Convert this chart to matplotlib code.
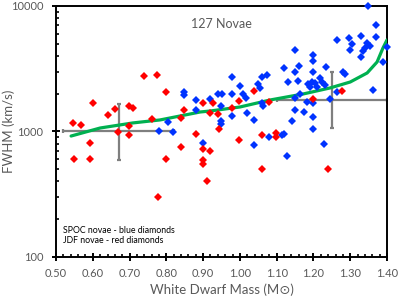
import matplotlib
matplotlib.use("Agg")
import matplotlib.pyplot as plt
from matplotlib.ticker import FixedLocator, FuncFormatter, NullFormatter, LogLocator

plt.rcParams['font.family'] = ['Lato', 'DejaVu Sans']

# SPOC novae (blue diamonds)
spoc_mass = [0.780, 0.818, 0.805, 0.848, 0.848, 0.881, 0.881, 0.900, 0.919, 0.940,
             0.951, 0.949, 0.949, 0.949, 0.979, 1.000, 0.979, 1.008, 1.017, 0.979,
             1.019, 1.038, 1.038, 1.049, 1.055, 1.060, 1.074, 1.060, 1.063, 1.079,
             1.114, 1.120, 1.128, 1.150, 1.199, 1.199, 1.120, 1.150, 1.161, 1.199,
             1.234, 1.280, 1.286, 1.131, 1.158, 1.185, 1.196, 1.204, 1.218, 1.223,
             1.231, 1.210, 1.191, 1.362, 1.150, 1.163, 1.182, 1.199, 1.245, 1.264,
             1.150, 1.174, 1.199, 1.142, 1.199, 1.229, 1.348, 1.370, 1.329, 1.370,
             1.264, 1.297, 1.305, 1.299, 1.346, 1.354, 1.340, 1.335, 1.329, 1.400,
             1.389]
spoc_fwhm = [1009, 991, 1191, 2065, 1954, 1782, 1483, 809, 1816, 1991,
             1991, 1596, 1213, 1148, 2717, 2305, 1991, 1991, 1849, 1330,
             1403, 1236, 780, 2388, 2222, 2717, 2819, 1687, 1596, 903,
             938, 955, 638, 4459, 4070, 3648, 3206, 2980, 3327, 2980,
             3266, 2980, 2872, 2478, 2524, 2388, 2478, 2432, 2667, 2478,
             2348, 2263, 2263, 2142, 1849, 1991, 1718, 1687, 1816, 2065,
             1483, 1429, 1306, 1213, 1047, 794, 10000, 7063, 5768, 5662,
             5359, 5559, 4979, 4459, 5073, 4800, 4625, 4377, 3924, 4711,
             3581]

# JDF novae (red diamonds)
jdf_mass = [0.546, 0.568, 0.601, 0.641, 0.660, 0.698, 0.709, 0.739, 0.775, 0.761,
            0.669, 0.698, 0.698, 0.592, 0.549, 0.592, 0.777, 0.799, 0.848, 0.840,
            0.900, 0.927, 0.919, 0.940, 0.979, 0.998, 1.038, 1.079, 0.943, 0.881,
            1.060, 0.840, 0.799, 0.900, 0.919, 0.900, 0.900, 0.911, 0.998, 1.060,
            1.240, 1.199, 1.278, 1.098, 1.098]
jdf_fwhm = [1169, 1127, 1687, 1352, 1510, 1596, 1538, 2767, 2819, 1259,
            991, 1107, 938, 809, 600, 600, 300, 2065, 1483, 1282,
            1687, 1687, 1403, 1377, 1538, 1750, 2103, 1718, 1047, 955,
            938, 752, 600, 726, 700, 593, 551, 404, 855, 500,
            500, 1816, 2103, 973, 903]

# Model curve (green)
model_mass = [0.541, 0.620, 0.709, 0.783, 0.892, 0.919, 1.000, 1.082, 1.172, 1.245,
              1.300, 1.346, 1.373, 1.389, 1.400]
model_fwhm = [920, 1066, 1170, 1236, 1430, 1456, 1567, 1782, 1990, 2222,
              2479, 2926, 3579, 4627, 5360]

# Typical error bars
err_mass = [0.67, 1.25]
err_fwhm = [1000, 1782]
err_mass_half = [0.15, 0.15]
err_fwhm_low = [407, 715]
err_fwhm_high = [656, 1198]

xticks = [0.50, 0.60, 0.70, 0.80, 0.90, 1.00, 1.10, 1.20, 1.30, 1.40]
yticks = [100, 1000, 10000]

fig = plt.figure(figsize=(4.01, 2.99), dpi=100)
ax = fig.add_axes([0.1397, 0.1405, 0.8254, 0.8395])

gray = '#595959'
ax.errorbar(err_mass, err_fwhm, xerr=err_mass_half,
            yerr=[err_fwhm_low, err_fwhm_high], fmt='none',
            ecolor='#7f7f7f', elinewidth=1.6, capsize=1.6, capthick=1.6, zorder=2)
ax.plot(model_mass, model_fwhm, color='#00b050', lw=2.3, zorder=3,
        solid_capstyle='round')
ax.plot(spoc_mass, spoc_fwhm, 'D', color='#0033ff', ms=4.3, mew=0,
        zorder=4, clip_on=False)
ax.plot(jdf_mass, jdf_fwhm, 'D', color='#ff0000', ms=4.3, mew=0,
        zorder=5, clip_on=False)

ax.set_xlim(0.5, 1.4)
ax.set_yscale('log')
ax.set_ylim(100, 10000)

ax.xaxis.set_major_locator(FixedLocator(xticks))
ax.xaxis.set_major_formatter(FuncFormatter(lambda v, p: f"{v:.2f}"))
ax.xaxis.set_minor_locator(FixedLocator([0.5 + 0.02 * i for i in range(46)]))
ax.yaxis.set_major_locator(FixedLocator(yticks))
ax.yaxis.set_major_formatter(FuncFormatter(lambda v, p: f"{int(v)}"))
ax.yaxis.set_minor_locator(LogLocator(base=10, subs=range(2, 10)))
ax.yaxis.set_minor_formatter(NullFormatter())

ax.tick_params(which='major', direction='inout', length=6, width=1.4,
               labelsize=8, labelcolor=gray, color='black')
ax.tick_params(axis='x', which='major', pad=5)
ax.tick_params(axis='y', which='major', pad=6)
ax.tick_params(which='minor', direction='in', length=2.5, width=1.2, color='black')

for s in ax.spines.values():
    s.set_linewidth(1.4)
    s.set_color('black')

ax.set_xlabel('White Dwarf Mass (M\u2299)', fontsize=9.5, color=gray, labelpad=3)
ax.set_ylabel('FWHM (km/s)', fontsize=9.5, color=gray)
ax.yaxis.set_label_coords(-0.125, 0.5)

ax.text(0.5, 0.93, '127 Novae', transform=ax.transAxes, fontsize=9,
        color=gray, ha='center', va='center')
ax.text(0.022, 0.105, 'SPOC novae - blue diamonds', transform=ax.transAxes,
        fontsize=6.3, color='black', ha='left', va='center')
ax.text(0.022, 0.065, 'JDF novae - red diamonds', transform=ax.transAxes,
        fontsize=6.3, color='black', ha='left', va='center')

fig.savefig('out.png', dpi=100)
